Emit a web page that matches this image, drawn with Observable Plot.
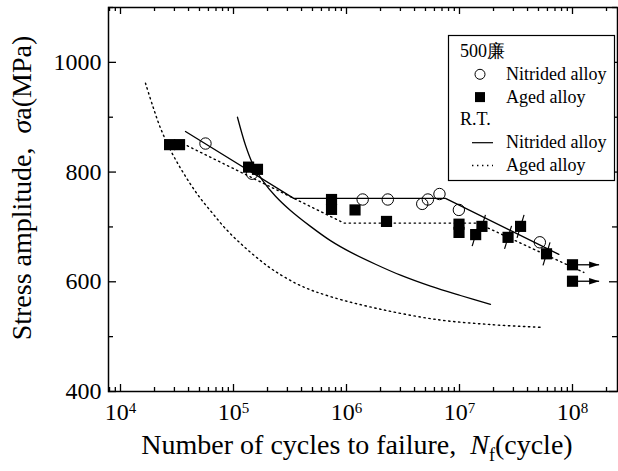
<!DOCTYPE html>
<html><head><meta charset="utf-8">
<script src="https://cdn.jsdelivr.net/npm/d3@7"></script>
<script src="https://cdn.jsdelivr.net/npm/@observablehq/plot@0.6"></script>
<style>body{margin:0;background:#fff}</style>
</head><body><div id="chart"></div>
<script>
// ---------- data ----------
// 500 °C, nitrided alloy (open circles)
const nitrided500N = [5.65e4, 1.46e5, 1.39e6, 2.32e6, 4.68e6, 5.25e6, 6.65e6, 9.87e6, 5.14e7];
const nitrided500S = [852, 797, 750, 750, 742, 750, 760, 731, 672];
// 500 °C, aged alloy (filled squares)
const aged500N = [2.72e4, 3.33e4, 1.36e5, 1.63e5, 7.37e5, 7.37e5, 1.19e6, 2.26e6, 9.9e6, 9.9e6, 1.39e7, 1.58e7, 2.69e7, 3.47e7, 5.89e7, 1e8, 1e8];
const aged500S = [850, 850, 809, 805, 750, 732, 731, 710, 705, 690, 686, 701, 681, 701, 651, 631, 601];
// squares carrying a slash mark
const slashN = [1.39e7, 1.58e7, 2.69e7, 3.47e7, 5.89e7];
const slashS = [686, 701, 681, 701, 651];
// run-outs (arrows)
const runoutN = [1e8, 1e8];
const runoutS = [631, 601];
const runoutTo = [1.72e8, 1.72e8];
// 500 °C fit lines
const fitNit500N = [3.76e4, 3.41e5, 7.52e6, 7.57e7];
const fitNit500S = [874, 752, 752, 650];
const fitAged500N = [3.89e4, 9.5e5, 1.44e7, 1.26e8];
const fitAged500S = [848, 707, 707, 617];
// R.T. curves
const rtNitN = [1.084e5, 1.277e5, 1.472e5, 1.806e5, 2.355e5, 3.194e5, 4.80e5, 7.21e5, 1.084e6, 1.806e6, 3.006e6, 5.54e6, 1.02e7, 1.88e7];
const rtNitS = [900, 849, 816, 785, 756, 730, 701, 675, 654, 632, 612, 592, 575, 559];
const rtAgedN = [1.665e4, 1.918e4, 2.26e4, 2.77e4, 3.40e4, 4.16e4, 5.10e4, 6.52e4, 8.49e4, 1.153e5, 1.566e5, 2.26e5, 3.92e5, 7.21e5, 2.00e6, 6.38e6, 1.88e7, 5.21e7];
const rtAgedS = [962, 922, 880, 840, 807, 778, 752, 725, 697, 670, 646, 621, 593, 573, 550, 531, 522, 517];
// axes
const xMajor = [1e4, 1e5, 1e6, 1e7, 1e8];
const yMajor = [400, 600, 800, 1000];
const yMinor = [500, 700, 900, 1100];
// legend
const legendTitles = ["500廉", "R.T."];
const legendItems = ["Nitrided alloy", "Aged alloy", "Nitrided alloy", "Aged alloy"];

// ---------- build ----------
const pts = (xs, ys) => xs.map((x, i) => ({x, y: ys[i]}));
const W = 618, H = 471, mL = 108, mR = 1, mT = 7, mB = 80;
const frameW = W - mL - mR, frameH = H - mT - mB;
const xDomain = [Math.pow(10, 4 - 12 / 113), Math.pow(10, 4 + 497 / 113)];
const xMinor = [];
for (let e = 3; e <= 8; e++) for (let k = 2; k <= 9; k++) {
  const v = k * Math.pow(10, e);
  if (v > xDomain[0] && v < xDomain[1]) xMinor.push(v);
}
const FONT = "'Liberation Serif', 'Times New Roman', serif";
const dotted = {stroke: "black", strokeWidth: 1.4, strokeDasharray: "1.4,3.6"};
const solid = {stroke: "black", strokeWidth: 1.3};

const arrowHead = {draw(ctx) { ctx.moveTo(0, 0); ctx.lineTo(-10, -3.2); ctx.lineTo(-10, 3.2); ctx.closePath(); }};
const slash = {draw(ctx) { ctx.moveTo(-3.5, 11.5); ctx.lineTo(3.5, -11.5); }};

const chart = Plot.plot({
  width: W, height: H,
  marginLeft: mL, marginRight: mR, marginTop: mT, marginBottom: mB,
  style: {fontFamily: FONT, color: "black", background: "white", overflow: "visible"},
  x: {type: "log", domain: xDomain},
  y: {domain: [400, 1100]},
  marks: [
    // ticks (inward, mirrored)
    Plot.ruleX(xMajor, {insetTop: frameH - 7, strokeWidth: 1.3}),
    Plot.ruleX(xMajor, {insetBottom: frameH - 7, strokeWidth: 1.3}),
    Plot.ruleX(xMinor, {insetTop: frameH - 4, strokeWidth: 1.3}),
    Plot.ruleX(xMinor, {insetBottom: frameH - 4, strokeWidth: 1.3}),
    Plot.ruleY(yMajor, {insetRight: frameW - 8, strokeWidth: 1.3}),
    Plot.ruleY(yMajor, {insetLeft: frameW - 8, strokeWidth: 1.3}),
    Plot.ruleY(yMinor, {insetRight: frameW - 5, strokeWidth: 1.3}),
    Plot.ruleY(yMinor, {insetLeft: frameW - 5, strokeWidth: 1.3}),
    Plot.axisX(xMajor, {tickSize: 0, tickPadding: 11, fontSize: 24, className: "xtl", tickFormat: d => "10|" + Math.round(Math.log10(d)), label: null}),
    Plot.axisY(yMajor, {tickSize: 0, tickPadding: 7, fontSize: 24, tickFormat: d => String(d), label: null}),
    // R.T. curves
    Plot.line(pts(rtNitN, rtNitS), {x: "x", y: "y", curve: "catmull-rom", ...solid}),
    Plot.line(pts(rtAgedN, rtAgedS), {x: "x", y: "y", curve: "catmull-rom", ...dotted}),
    // 500 fits
    Plot.line(pts(fitNit500N, fitNit500S), {x: "x", y: "y", ...solid}),
    Plot.line(pts(fitAged500N, fitAged500S), {x: "x", y: "y", ...dotted}),
    // data
    Plot.dot(pts(nitrided500N, nitrided500S), {x: "x", y: "y", r: 5.7, stroke: "black", strokeWidth: 1, fill: "none"}),
    Plot.link(runoutN.map((n, i) => ({x1: n, x2: runoutTo[i], y: runoutS[i]})), {x1: "x1", x2: "x2", y1: "y", y2: "y", stroke: "black", strokeWidth: 1.3}),
    Plot.dot(runoutTo.map((n, i) => ({x: n, y: runoutS[i]})), {x: "x", y: "y", symbol: arrowHead, fill: "black", stroke: "none"}),
    Plot.dot(pts(slashN, slashS), {x: "x", y: "y", symbol: slash, stroke: "black", strokeWidth: 1.2, fill: "none"}),
    Plot.dot(pts(aged500N, aged500S), {x: "x", y: "y", symbol: "square", r: 6.3, fill: "black", stroke: "none"}),
    Plot.frame({stroke: "black", strokeWidth: 1.5})
  ]
});
document.getElementById("chart").appendChild(chart);

const svg = d3.select(chart);
// superscript tick labels
svg.selectAll(".xtl text").each(function() {
  const t = d3.select(this);
  const [base, exp] = t.text().split("|");
  t.text("");
  t.append("tspan").text(base);
  t.append("tspan").attr("dy", "-0.42em").attr("font-size", "15px").text(exp);
});
// axis titles
const yt = svg.append("text").attr("transform", "translate(31,188) rotate(-90)")
  .attr("text-anchor", "middle").attr("font-size", 28).attr("font-family", FONT).attr("fill", "black");
yt.append("tspan").text("Stress amplitude,\u00a0 ");
yt.append("tspan").attr("font-style", "italic").text("σ");
yt.append("tspan").text("a(MPa)");
const xt = svg.append("text").attr("x", 357).attr("y", 454)
  .attr("text-anchor", "middle").attr("font-size", 28).attr("font-family", FONT).attr("fill", "black");
xt.append("tspan").text("Number of cycles to failure,\u00a0 ");
xt.append("tspan").attr("font-style", "italic").text("N");
xt.append("tspan").attr("font-size", 18).attr("dy", 7).text("f");
xt.append("tspan").attr("dy", -7).text("(cycle)");
// legend
const lg = svg.append("g").attr("font-family", FONT).attr("font-size", 18).attr("fill", "black").attr("text-anchor", "start");
lg.append("rect").attr("x", 448.5).attr("y", 35.5).attr("width", 166).attr("height", 145)
  .attr("fill", "white").attr("stroke", "black").attr("stroke-width", 1.2);
const rows = [
  {t: legendTitles[0], kind: "title"},
  {t: legendItems[0], kind: "circle"},
  {t: legendItems[1], kind: "square"},
  {t: legendTitles[1], kind: "title"},
  {t: legendItems[2], kind: "line"},
  {t: legendItems[3], kind: "dots"}
];
rows.forEach((r, i) => {
  const base = 57 + i * 22.8;
  const cy = base - 5.5;
  if (r.kind === "title") {
    lg.append("text").attr("x", 460).attr("y", base).text(r.t);
    return;
  }
  lg.append("text").attr("x", 506).attr("y", base).text(r.t);
  if (r.kind === "circle") lg.append("circle").attr("cx", 480).attr("cy", cy).attr("r", 5).attr("fill", "none").attr("stroke", "black").attr("stroke-width", 1);
  if (r.kind === "square") lg.append("rect").attr("x", 475).attr("y", cy - 5).attr("width", 10).attr("height", 10).attr("fill", "black");
  if (r.kind === "line") lg.append("line").attr("x1", 472).attr("x2", 493).attr("y1", cy).attr("y2", cy).attr("stroke", "black").attr("stroke-width", 1.2);
  if (r.kind === "dots") lg.append("line").attr("x1", 472).attr("x2", 493).attr("y1", cy).attr("y2", cy).attr("stroke", "black").attr("stroke-width", 1.4).attr("stroke-dasharray", "1.4,3.6");
});
</script>
</body></html>
